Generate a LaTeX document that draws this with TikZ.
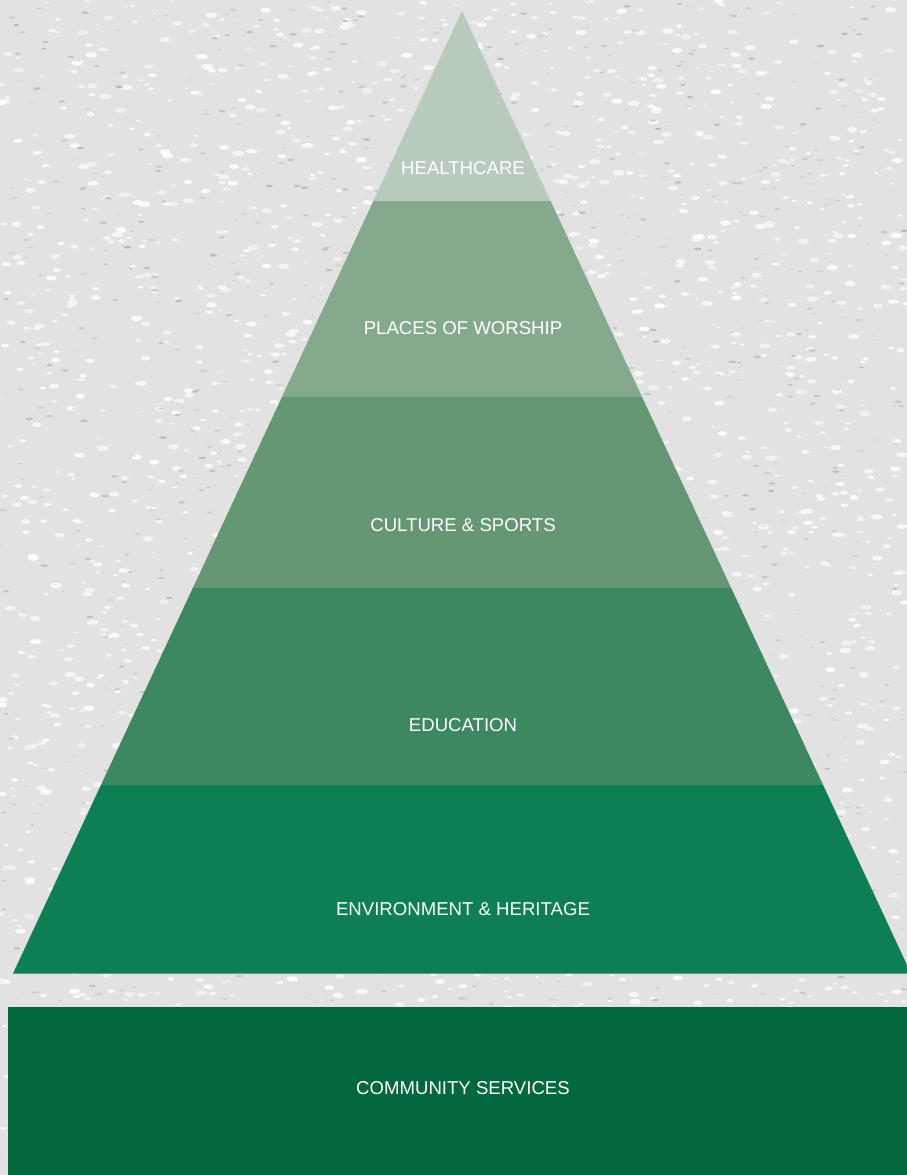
\documentclass[tikz,border=0pt]{standalone}
\usepackage{fontspec}
\setmainfont{Liberation Sans}
\definecolor{bgc}{RGB}{226,226,226}
\definecolor{bandA}{RGB}{185,203,188}
\definecolor{bandB}{RGB}{132,169,141}
\definecolor{bandC}{RGB}{101,151,117}
\definecolor{bandD}{RGB}{61,135,97}
\definecolor{bandE}{RGB}{14,126,83}
\definecolor{baseC}{RGB}{3,103,61}
\tikzset{
  lbl/.style={text=white,font=\fontsize{18.6}{20}\selectfont,inner sep=0pt,anchor=center},
}
\begin{document}
\begin{tikzpicture}[x=1pt,y=-1pt]
\useasboundingbox (0,0) rectangle (907,1175);
% textured background
\fill[bgc] (0,0) rectangle (907,1175);
\pgfmathsetseed{7}
\foreach \i in {1,...,2600}{
  \pgfmathsetmacro{\px}{rnd*907}
  \pgfmathsetmacro{\py}{rnd*1175}
  \pgfmathsetmacro{\rr}{1+rnd*2.5}
  \pgfmathsetmacro{\op}{0.5+rnd*0.4}
  \fill[white,opacity=\op] (\px,\py) ellipse [x radius=\rr*1.7, y radius=\rr*0.8];
}
\foreach \i in {1,...,1400}{
  \pgfmathsetmacro{\px}{rnd*907}
  \pgfmathsetmacro{\py}{rnd*1175}
  \pgfmathsetmacro{\rr}{0.6+rnd*1.6}
  \pgfmathsetmacro{\op}{0.08+rnd*0.25}
  \fill[black!60,opacity=\op] (\px,\py) ellipse [x radius=\rr*1.8, y radius=\rr*0.6];
}
% pyramid bands
\begin{scope}
  \clip (462,11) -- (911,973.5) -- (13,973.5) -- cycle;
  \fill[bandA] (0,0) rectangle (907,200.5);
  \fill[bandB] (0,200.5) rectangle (907,396.5);
  \fill[bandC] (0,396.5) rectangle (907,588);
  \fill[bandD] (0,588) rectangle (907,785);
  \fill[bandE] (0,785) rectangle (912,973.5);
\end{scope}
% base block
\fill[baseC] (8,1007) rectangle (907,1175);
% labels
\node[lbl] (hc) at (463,168.5) {HEALTHCARE};
\node[lbl] (pw) at (463,328) {PLACES OF WORSHIP};
\node[lbl] (cs) at (463,525) {CULTURE \& SPORTS};
\node[lbl] (ed) at (463,725) {EDUCATION};
\node[lbl] (eh) at (463,909) {ENVIRONMENT \& HERITAGE};
\node[lbl] (cm) at (463,1088) {COMMUNITY SERVICES};
\end{tikzpicture}
\end{document}
